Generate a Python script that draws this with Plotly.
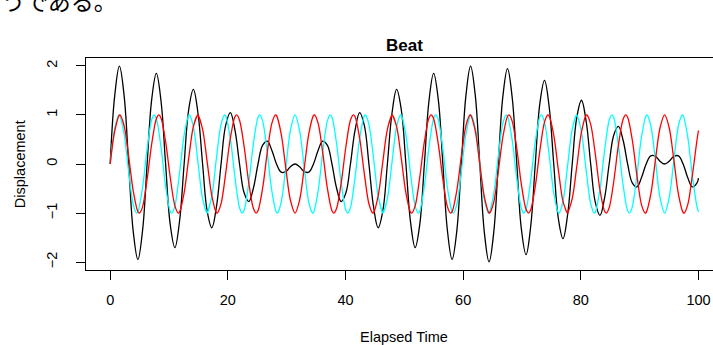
import plotly.graph_objects as go

# Elapsed time samples (common grid)
elapsed_time = [
    0.00, 0.79, 1.57, 2.36, 3.14, 3.93, 4.71, 5.50, 6.28, 7.07,
    7.85, 8.64, 9.42, 10.21, 11.00, 11.78, 12.57, 13.35, 14.14, 14.92,
    15.71, 16.49, 17.28, 18.06, 18.85, 19.63, 20.42, 21.21, 21.99, 22.78,
    23.56, 24.35, 25.13, 25.92, 26.70, 27.49, 28.27, 29.06, 29.85, 30.63,
    31.42, 32.20, 32.99, 33.77, 34.56, 35.34, 36.13, 36.91, 37.70, 38.48,
    39.27, 40.06, 40.84, 41.63, 42.41, 43.20, 43.98, 44.77, 45.55, 46.34,
    47.12, 47.91, 48.69, 49.48, 50.27, 51.05, 51.84, 52.62, 53.41, 54.19,
    54.98, 55.76, 56.55, 57.33, 58.12, 58.90, 59.69, 60.48, 61.26, 62.05,
    62.83, 63.62, 64.40, 65.19, 65.97, 66.76, 67.54, 68.33, 69.12, 69.90,
    70.69, 71.47, 72.26, 73.04, 73.83, 74.61, 75.40, 76.18, 76.97, 77.75,
    78.54, 79.33, 80.11, 80.90, 81.68, 82.47, 83.25, 84.04, 84.82, 85.61,
    86.39, 87.18, 87.96, 88.75, 89.54, 90.32, 91.11, 91.89, 92.68, 93.46,
    94.25, 95.03, 95.82, 96.60, 97.39, 98.17, 98.96, 99.75, 100.00,
]

# Slower wave (red)
wave_red = [
    0, .679, .997, .785, .156, -.556, -.972, -.873, -.309, .419,
    .924, .938, .454, -.271, -.853, -.981, -.588, .118, .760, .999,
    .707, .039, -.649, -.993, -.809, -.195, .523, .963, .891, .346,
    -.383, -.908, -.951, -.489, .233, .832, .988, .619, -.079, -.734,
    -1, -.734, -.079, .619, .988, .832, .233, -.489, -.951, -.908,
    -.383, .346, .891, .963, .523, -.195, -.809, -.993, -.649, .039,
    .707, .999, .760, .118, -.588, -.981, -.853, -.271, .454, .938,
    .924, .419, -.309, -.873, -.972, -.556, .156, .785, .997, .679,
    0, -.679, -.997, -.785, -.156, .556, .972, .873, .309, -.419,
    -.924, -.938, -.454, .271, .853, .981, .588, -.118, -.760, -.999,
    -.707, -.039, .649, .993, .809, .195, -.523, -.963, -.891, -.346,
    .383, .908, .951, .489, -.233, -.832, -.988, -.619, .079, .734,
    1, .734, .079, -.619, -.988, -.832, -.233, .489, .683,
]

# Red crests and troughs
red_peak_time = [
    1.653, 4.960, 8.267, 11.574, 14.881, 18.188, 21.495, 24.802, 28.109,
    34.723, 38.030, 41.337, 44.644, 47.951, 51.258, 54.564, 57.871,
    61.178, 64.485, 67.792, 71.099, 74.406, 77.713, 81.020, 84.327,
    87.634, 90.941, 97.555,
]
red_peak_value = [
    1, -1, 1, -1, 1, -1, 1, -1, 1,
    1, -1, 1, -1, 1, -1, 1, -1,
    1, -1, 1, -1, 1, -1, 1, -1,
    1, -1, -1,
]

# Faster wave (cyan)
wave_cyan = [
    0, .734, .997, .619, -.156, -.832, -.972, -.489, .309, .908,
    .924, .346, -.454, -.963, -.853, -.195, .588, .993, .760, .039,
    -.707, -.999, -.649, .118, .809, .981, .523, -.271, -.891, -.938,
    -.383, .419, .951, .873, .233, -.556, -.988, -.785, -.079, .679,
    1, .679, -.079, -.785, -.988, -.556, .233, .873, .951, .419,
    -.383, -.938, -.891, -.271, .523, .981, .809, .118, -.649, -.999,
    -.707, .039, .760, .993, .588, -.195, -.853, -.963, -.454, .346,
    .924, .908, .309, -.489, -.972, -.832, -.156, .619, .997, .734,
    0, -.734, -.997, -.619, .156, .832, .972, .489, -.309, -.908,
    -.924, -.346, .454, .963, .853, .195, -.588, -.993, -.760, -.039,
    .707, .999, .649, -.118, -.809, -.981, -.523, .271, .891, .938,
    .383, -.419, -.951, -.873, -.233, .556, .988, .785, .079, -.679,
    -1, -.679, .079, .785, .988, .556, -.233, -.873, -.971,
]

# Cyan crests and troughs
cyan_peak_time = [
    1.496, 4.488, 7.480, 10.472, 13.464, 16.456, 19.448, 22.440, 25.432,
    28.424, 34.408, 37.400, 40.392, 43.384, 46.376, 49.368, 52.360,
    55.352, 58.344, 61.336, 64.328, 67.320, 70.312, 73.304, 76.296,
    79.288, 82.280, 85.272, 88.264, 91.256, 97.240,
]
cyan_peak_value = [
    1, -1, 1, -1, 1, -1, 1, -1, 1,
    -1, -1, 1, -1, 1, -1, 1, -1,
    1, -1, 1, -1, 1, -1, 1, -1,
    1, -1, 1, -1, 1, 1,
]

# Superposition (black)
wave_sum = [
    0, 1.413, 1.994, 1.404, 0, -1.387, -1.945, -1.361, 0, 1.327,
    1.848, 1.284, 0, -1.234, -1.705, -1.176, 0, 1.111, 1.521, 1.039,
    0, -.960, -1.299, -.876, 0, .786, 1.045, .691, 0, -.592,
    -.765, -.489, 0, .384, .467, .276, 0, -.166, -.157, -.056,
    0, -.056, -.157, -.166, 0, .276, .467, .384, 0, -.489,
    -.765, -.592, 0, .691, 1.045, .786, 0, -.876, -1.299, -.960,
    0, 1.039, 1.521, 1.111, 0, -1.176, -1.705, -1.234, 0, 1.284,
    1.848, 1.327, 0, -1.361, -1.945, -1.387, 0, 1.404, 1.994, 1.413,
    0, -1.413, -1.994, -1.404, 0, 1.387, 1.945, 1.361, 0, -1.327,
    -1.848, -1.284, 0, 1.234, 1.705, 1.176, 0, -1.111, -1.521, -1.039,
    0, .960, 1.299, .876, 0, -.786, -1.045, -.691, 0, .592,
    .765, .489, 0, -.384, -.467, -.276, 0, .166, .157, .056,
    0, .056, .157, .166, 0, -.276, -.467, -.384, -.288,
]

x_ticks = [0, 20, 40, 60, 80, 100]
y_ticks = [-2, -1, 0, 1, 2]


def merged(t_grid, v_grid, t_extra, v_extra):
    pts = sorted(list(zip(t_grid, v_grid)) + list(zip(t_extra, v_extra)))
    return [p[0] for p in pts], [p[1] for p in pts]


red_t, red_v = merged(elapsed_time, wave_red, red_peak_time, red_peak_value)
cyan_t, cyan_v = merged(elapsed_time, wave_cyan, cyan_peak_time, cyan_peak_value)

FONT = "Liberation Sans, Arial, Helvetica, sans-serif"

fig = go.Figure()
fig.add_trace(go.Scatter(x=elapsed_time, y=wave_sum, mode="lines",
                         line=dict(color="black", width=1.3, shape="spline", smoothing=1.1),
                         showlegend=False, hoverinfo="skip"))
fig.add_trace(go.Scatter(x=cyan_t, y=cyan_v, mode="lines",
                         line=dict(color="#00FFFF", width=1.3, shape="spline", smoothing=0.9),
                         showlegend=False, hoverinfo="skip"))
fig.add_trace(go.Scatter(x=red_t, y=red_v, mode="lines",
                         line=dict(color="#FF0000", width=1.3, shape="spline", smoothing=0.9),
                         showlegend=False, hoverinfo="skip"))

fig.update_layout(
    width=713, height=345,
    margin=dict(l=86, r=0, t=58, b=75),
    paper_bgcolor="white", plot_bgcolor="white",
    font=dict(family=FONT, size=14.5, color="black"),
    xaxis=dict(range=[-4.11, 102.47], tickvals=x_ticks, ticks="outside",
               ticklen=9, tickcolor="black", tickwidth=1, ticklabelstandoff=8,
               showline=True, linecolor="black", linewidth=1, mirror=True,
               showgrid=False, zeroline=False,
               tickfont=dict(family=FONT, size=14.5, color="black")),
    yaxis=dict(range=[-2.16, 2.16], tickvals=y_ticks, ticks="outside",
               ticklen=9, tickcolor="black", tickwidth=1, tickangle=-90,
               ticklabelstandoff=13,
               showline=True, linecolor="black", linewidth=1, mirror=False,
               showgrid=False, zeroline=False,
               tickfont=dict(family=FONT, size=14.5, color="black")),
    annotations=[
        dict(text="<b>Beat</b>", x=50, xref="x", y=1.06, yref="paper",
             xanchor="center", yanchor="middle", showarrow=False,
             font=dict(family=FONT, size=17, color="black")),
        dict(text="Elapsed Time", x=50, xref="x", y=-0.316, yref="paper",
             xanchor="center", yanchor="middle", showarrow=False,
             font=dict(family=FONT, size=14.5, color="black")),
        dict(text="Displacement", x=-0.105, xref="paper", y=0, yref="y",
             xanchor="center", yanchor="middle", textangle=-90, showarrow=False,
             font=dict(family=FONT, size=14.5, color="black")),
        dict(text="うである。", x=-0.137, xref="paper", y=1.275, yref="paper",
             xanchor="left", yanchor="middle", showarrow=False,
             font=dict(family="Noto Sans CJK JP", size=23, color="black")),
    ],
)

fig.write_html("out.html")
